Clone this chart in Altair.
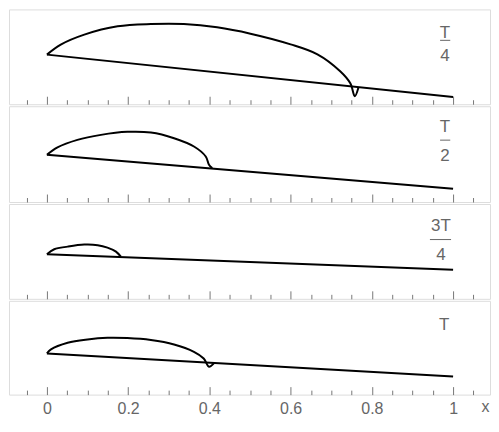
import altair as alt
import pandas as pd

# ---------------- data ----------------
X_TICKS = [-0.05, 0.0, 0.05, 0.1, 0.15, 0.2, 0.25, 0.3, 0.35, 0.4, 0.45, 0.5,
           0.55, 0.6, 0.65, 0.7, 0.75, 0.8, 0.85, 0.9, 0.95, 1.0, 1.05]

line_x = [0.0, 1.0]
line_y_t4 = [0.507, 0.074]
line_y_t2 = [0.503, 0.156]
line_y_3t4 = [0.502, 0.340]
line_y_t = [0.503, 0.267]

bubble_x_t4 = [0.0, 0.034, 0.092, 0.174, 0.256, 0.337, 0.419, 0.501, 0.600, 0.666, 0.722, 0.747, 0.758, 0.767]
bubble_y_t4 = [0.507, 0.609, 0.711, 0.796, 0.819, 0.819, 0.786, 0.721, 0.612, 0.510, 0.337, 0.214, 0.082, 0.170]

bubble_x_t2 = [0.0, 0.026, 0.075, 0.133, 0.198, 0.256, 0.313, 0.362, 0.391, 0.399, 0.407]
bubble_y_t2 = [0.503, 0.579, 0.656, 0.707, 0.738, 0.731, 0.673, 0.588, 0.486, 0.401, 0.367]

bubble_x_3t4 = [0.0, 0.018, 0.051, 0.092, 0.125, 0.149, 0.170, 0.182]
bubble_y_3t4 = [0.502, 0.553, 0.580, 0.601, 0.595, 0.570, 0.529, 0.477]

bubble_x_t = [0.0, 0.010, 0.051, 0.100, 0.149, 0.198, 0.256, 0.313, 0.362, 0.386, 0.399, 0.411]
bubble_y_t = [0.503, 0.544, 0.612, 0.646, 0.663, 0.660, 0.640, 0.595, 0.520, 0.452, 0.367, 0.401]

numerators = ["T", "T", "3T", "T"]
denominators = ["4", "2", "4", ""]

# ---------------- layout / styling ----------------
W = 482
HEIGHTS = [95, 96, 95, 94]
Y_DOMAINS = [[0.0, 0.969], [0.020, 1.0], [0.041, 1.020], [0.082, 1.041]]
FONT = "Liberation Sans"
GRAY = "#666666"
TICK = "#777777"
MAJOR = "abs(datum.value*5 - round(datum.value*5)) < 0.001"

xscale = alt.Scale(domain=[-0.0934, 1.0909], nice=False, zero=False)


def make_axis(last, h):
    kw = dict(
        values=X_TICKS,
        grid=True,
        gridColor=TICK,
        gridWidth=1,
        gridOpacity=1,
        # inward ticks drawn as the last few pixels of each grid line
        gridDash={"condition": {"test": MAJOR, "value": [0, h - 8, 8, 400]},
                  "value": [0, h - 4.5, 4.5, 400]},
        ticks=False,
        tickSize=0,
        domain=False,
        labelOverlap=False,
        labelFlush=False,
        labelBound=False,
    )
    if last:
        kw.update(
            labels=True,
            labelExpr=MAJOR + " ? format(datum.value, '~g') : ''",
            labelFont=FONT,
            labelFontSize=16,
            labelColor=GRAY,
            labelPadding=6,
            title="x",
            titleFont=FONT,
            titleFontSize=16,
            titleFontWeight="normal",
            titleColor=GRAY,
            titleX=473,
            titleY=12,
            titleAlign="left",
            titleBaseline="middle",
            titleAngle=0,
        )
    else:
        kw.update(labels=False, title=None)
    return alt.Axis(**kw)


def panel(bx, by, ly, num, den, idx, last):
    h = HEIGHTS[idx]
    axis = make_axis(last, h)
    yscale = alt.Scale(domain=Y_DOMAINS[idx], nice=False, zero=False)
    X = lambda f="x": alt.X(f, type="quantitative", scale=xscale, axis=axis)
    Y = lambda f="y": alt.Y(f, type="quantitative", scale=yscale, axis=None)

    df_line = pd.DataFrame({"x": line_x, "y": ly})
    df_bub = pd.DataFrame({"x": bx, "y": by, "o": list(range(len(bx)))})

    line = alt.Chart(df_line).mark_line(color="black", strokeWidth=2).encode(x=X(), y=Y())
    bub = alt.Chart(df_bub).mark_line(
        color="black", strokeWidth=2, interpolate="catmull-rom"
    ).encode(x=X(), y=Y(), order=alt.Order("o:Q"))

    layers = [line, bub]

    # label anchors (annotation placement)
    if idx == 2:
        tx, bar0, bar1 = 0.970, 0.943, 0.995
    else:
        tx, bar0, bar1 = 0.980, 0.968, 0.993
    ny = 0.73 if idx == 0 else 0.79
    txt_style = dict(font=FONT, fontSize=17, color=GRAY, align="center", baseline="middle")
    if den:
        df_t = pd.DataFrame({"x": [tx, tx], "y": [ny, 0.49], "t": [num, den]})
        df_bar = pd.DataFrame({"x": [bar0], "x2": [bar1], "y": [0.653]})
        layers.append(alt.Chart(df_t).mark_text(**txt_style).encode(x=X(), y=Y(), text="t:N"))
        layers.append(alt.Chart(df_bar).mark_rule(color=GRAY, strokeWidth=1).encode(
            x=X(), x2="x2:Q", y=Y()))
    else:
        df_t = pd.DataFrame({"x": [0.978], "y": [0.79], "t": [num]})
        layers.append(alt.Chart(df_t).mark_text(**txt_style).encode(x=X(), y=Y(), text="t:N"))

    return alt.layer(*layers).properties(width=W, height=h)


panels = [
    panel(bubble_x_t4, bubble_y_t4, line_y_t4, numerators[0], denominators[0], 0, False),
    panel(bubble_x_t2, bubble_y_t2, line_y_t2, numerators[1], denominators[1], 1, False),
    panel(bubble_x_3t4, bubble_y_3t4, line_y_3t4, numerators[2], denominators[2], 2, False),
    panel(bubble_x_t, bubble_y_t, line_y_t, numerators[3], denominators[3], 3, True),
]

chart = alt.vconcat(*panels, spacing=0).properties(
    padding={"left": 0, "top": 0, "right": 0, "bottom": 0}
).configure_view(stroke=TICK, strokeWidth=1).configure(background="white")

chart.save("out.html", embed_options={"renderer": "svg", "actions": False})
